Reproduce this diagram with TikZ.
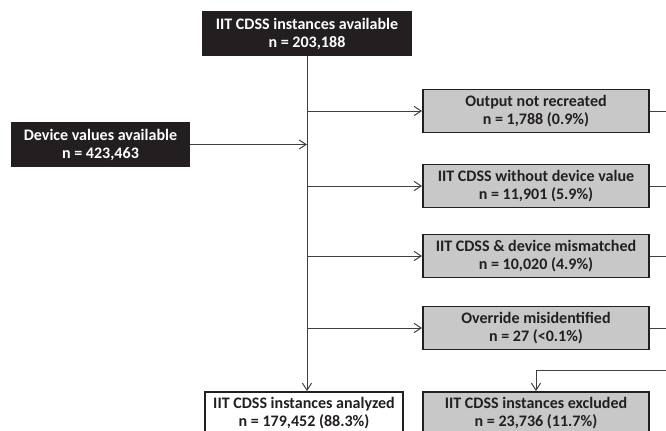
\documentclass[tikz,border=0pt]{standalone}
\usepackage{fontspec}
\setmainfont{Carlito}
\usetikzlibrary{arrows.meta, positioning, calc}
\definecolor{FlowInk}{RGB}{35, 31, 32}
\definecolor{FlowLine}{RGB}{64, 64, 64}
\definecolor{FlowGrey}{RGB}{200, 200, 200}
\tikzset{
    basicbox/.style={
        rectangle,
        draw=FlowInk,
        line width=1.3pt,
        align=center,
        inner sep=0pt,
        minimum height=1.075cm,
        text=FlowInk,
        font=\fontsize{11.4}{12.8}\selectfont\bfseries
    },
    darkbox/.style={
        basicbox,
        fill=FlowInk,
        text=white
    },
    greybox/.style={
        basicbox,
        fill=FlowGrey,
        minimum width=5.65cm
    },
    whitebox/.style={
        basicbox,
        fill=white
    },
    arrow/.style={
        -{Straight Barb[length=5pt, width=6.5pt]},
        line width=0.7pt,
        color=FlowLine
    },
    plainline/.style={
        line width=0.7pt,
        color=FlowLine
    }
}

\begin{document}
\begin{tikzpicture}[x=0.025cm, y=-0.025cm]
    \useasboundingbox (0,0) rectangle (666,431);
    \clip (0,0) rectangle (666,431);

    % sources
    \node[darkbox, minimum width=5.2cm] (avail) at (307,33.5) {IIT CDSS instances available\\n = 203,188};
    \node[darkbox, minimum width=4.425cm] (device) at (100.5,144.5) {Device values available\\n = 423,463};

    % exclusion reasons
    \node[greybox] (notrec) at (536,111) {Output not recreated\\n = 1,788 (0.9\%)};
    \node[greybox] (nodev) at (536,186) {IIT CDSS without device value\\n = 11,901 (5.9\%)};
    \node[greybox] (mismatch) at (536,256) {IIT CDSS \& device mismatched\\n = 10,020 (4.9\%)};
    \node[greybox] (override) at (536,328) {Override misidentified\\n = 27 (<0.1\%)};

    % results
    \node[whitebox, minimum width=4.95cm] (analyzed) at (304,413.5) {IIT CDSS instances analyzed\\n = 179,452 (88.3\%)};
    \node[greybox] (excluded) at (536,413.5) {IIT CDSS instances excluded\\n = 23,736 (11.7\%)};

    \coordinate (elbow) at (690,370);

    \draw[arrow] (avail.south) -- (avail.south |- analyzed.north);
    \draw[arrow] (device.east) -- (device.east -| avail.south);
    \draw[arrow] (avail.south |- notrec.west) -- (notrec.west);
    \draw[arrow] (avail.south |- nodev.west) -- (nodev.west);
    \draw[arrow] (avail.south |- mismatch.west) -- (mismatch.west);
    \draw[arrow] (avail.south |- override.west) -- (override.west);

    \draw[plainline] (notrec.east) -- (notrec.east -| elbow);
    \draw[plainline] (nodev.east) -- (nodev.east -| elbow);
    \draw[plainline] (mismatch.east) -- (mismatch.east -| elbow);
    \draw[plainline] (override.east) -- (override.east -| elbow);
    \draw[arrow] (notrec.east -| elbow) -- (elbow) -- (elbow -| excluded.north) -- (excluded.north);
\end{tikzpicture}
\end{document}
